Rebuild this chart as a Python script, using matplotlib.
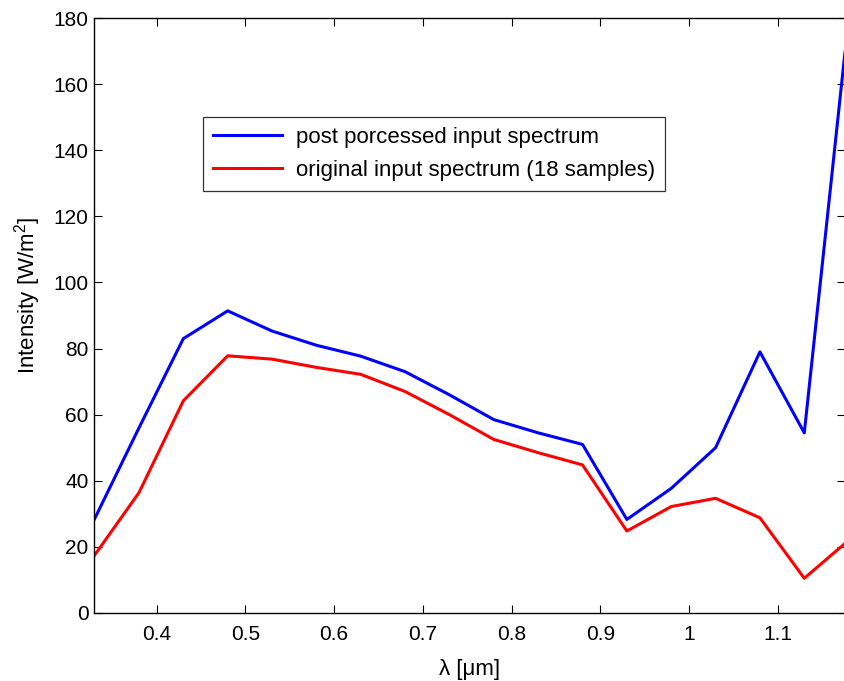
import numpy as np
import matplotlib
matplotlib.use("Agg")
import matplotlib.pyplot as plt

plt.rcParams['font.family'] = ['Liberation Sans', 'DejaVu Sans']
plt.rcParams['mathtext.fontset'] = 'custom'
plt.rcParams['mathtext.rm'] = 'Liberation Sans'

# wavelength samples [um]
wavelength = [0.33, 0.38, 0.43, 0.48, 0.53, 0.58, 0.63, 0.68, 0.73,
              0.78, 0.83, 0.88, 0.93, 0.98, 1.03, 1.08, 1.13, 1.18]
# post processed spectrum
post_processed = [28.5, 56, 83, 91.4, 85.3, 81, 77.7, 73, 66,
                  58.5, 54.5, 51, 28.3, 37.7, 50, 79, 54.5, 180]
# original spectrum (18 samples)
original = [17.5, 36.4, 64.2, 77.8, 76.8, 74.3, 72.2, 67, 60,
            52.5, 48.5, 44.8, 24.8, 32.2, 34.7, 28.8, 10.5, 22]

fig = plt.figure(figsize=(8.45, 6.81), dpi=100)
ax = fig.add_axes([94/845, 1 - 613/681, (845-94)/845, (613-18)/681])

ax.plot(wavelength, post_processed, color='blue', lw=2.2, label='post porcessed input spectrum')
ax.plot(wavelength, original, color='red', lw=2.2, label='original input spectrum (18 samples)')

ax.set_xlim(0.3293, 1.1759)
ax.set_ylim(0, 180)
ax.set_xticks([0.4, 0.5, 0.6, 0.7, 0.8, 0.9, 1.0, 1.1])
ax.set_xticklabels(['0.4', '0.5', '0.6', '0.7', '0.8', '0.9', '1', '1.1'])
ax.set_yticks(np.arange(0, 181, 20))
ax.tick_params(direction='in', top=True, right=True, length=6, width=0.8,
               labelsize=15)
ax.tick_params(axis='x', pad=9)
ax.tick_params(axis='y', pad=4)
for s in ax.spines.values():
    s.set_linewidth(1.0)

ax.set_xlabel('λ [μm]', fontsize=16)
ax.xaxis.set_label_coords((470-94)/751, -(680-613)/595)
ax.xaxis.label.set_va('bottom')
ax.set_ylabel('Intensity [W/m$^2$]', fontsize=16)
ax.yaxis.set_label_coords((43-94)/751, (613-295)/595)

leg = ax.legend(loc='upper left', bbox_to_anchor=((203-94)/751, 1 - (117-18)/595),
                fontsize=16, frameon=True, fancybox=False, edgecolor='black',
                handlelength=3.1, handletextpad=0.65, borderaxespad=0,
                borderpad=0.45, labelspacing=0.53)
leg.get_frame().set_linewidth(0.9)

plt.savefig('out.png', dpi=100)
